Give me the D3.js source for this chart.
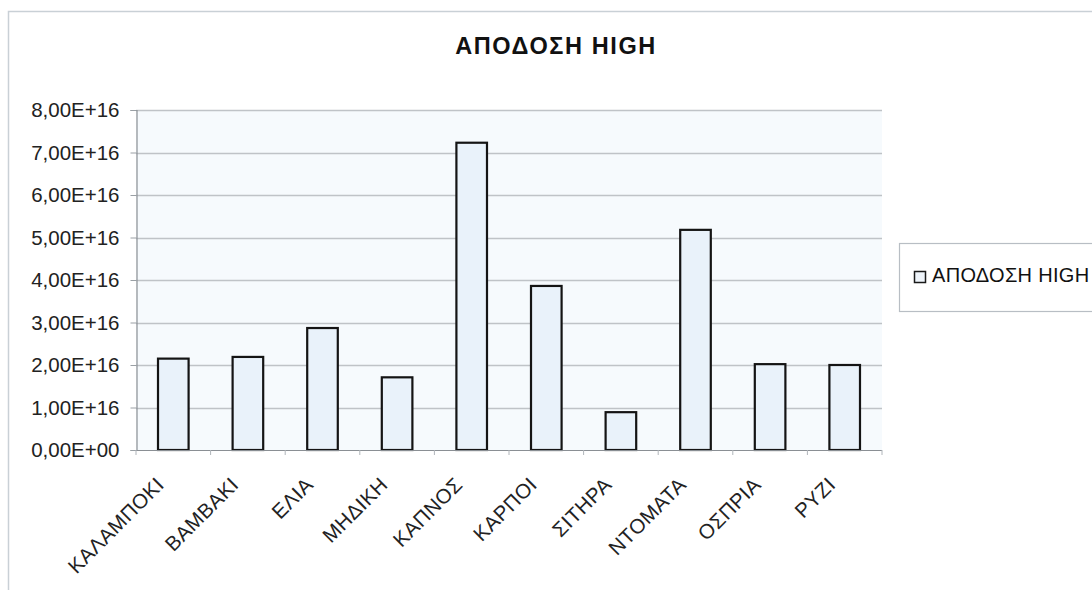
<!DOCTYPE html>
<html>
<head>
<meta charset="utf-8">
<script src="https://cdn.jsdelivr.net/npm/d3@7"></script>
<style>
  html, body { margin: 0; padding: 0; background: #ffffff; }
  svg { display: block; font-family: "Liberation Sans", Arial, sans-serif; }
</style>
</head>
<body>
<svg id="chart" width="1092" height="590"></svg>
<script>
// Crop yield (HIGH scenario) per crop
const categories = ["ΚΑΛΑΜΠΟΚΙ", "ΒΑΜΒΑΚΙ", "ΕΛΙΑ", "ΜΗΔΙΚΗ", "ΚΑΠΝΟΣ", "ΚΑΡΠΟΙ", "ΣΙΤΗΡΑ", "ΝΤΟΜΑΤΑ", "ΟΣΠΡΙΑ", "ΡΥΖΙ"];
const values = [2.15e16, 2.19e16, 2.87e16, 1.71e16, 7.23e16, 3.86e16, 0.89e16, 5.18e16, 2.02e16, 2.00e16];
const yTicks = [0, 1e16, 2e16, 3e16, 4e16, 5e16, 6e16, 7e16, 8e16];
const yTickLabels = ["0,00E+00", "1,00E+16", "2,00E+16", "3,00E+16", "4,00E+16", "5,00E+16", "6,00E+16", "7,00E+16", "8,00E+16"];
const seriesName = "ΑΠΟΔΟΣΗ HIGH";
const chartTitle = "ΑΠΟΔΟΣΗ HIGH";

const svg = d3.select("#chart");
const plot = { left: 136, right: 882, top: 110, bottom: 450 };

// outer chart frame
svg.append("rect")
  .attr("x", 8.5).attr("y", 11.5)
  .attr("width", 1200).attr("height", 700)
  .attr("fill", "#ffffff")
  .attr("stroke", "#c9d0d6").attr("stroke-width", 1.5);

const x = d3.scaleBand()
  .domain(categories)
  .range([plot.left, plot.right])
  .paddingInner(0.59)
  .paddingOuter(0.295);

const y = d3.scaleLinear()
  .domain([0, 8e16])
  .range([plot.bottom, plot.top]);

// plot area background
svg.append("rect")
  .attr("x", plot.left).attr("y", plot.top)
  .attr("width", plot.right - plot.left)
  .attr("height", plot.bottom - plot.top)
  .attr("fill", "#f6fafd");

// horizontal gridlines
svg.append("g")
  .selectAll("line")
  .data(yTicks.filter(d => d > 0))
  .join("line")
  .attr("x1", plot.left).attr("x2", plot.right)
  .attr("y1", d => Math.round(y(d)) + 0.5)
  .attr("y2", d => Math.round(y(d)) + 0.5)
  .attr("stroke", "#bfc3c7").attr("stroke-width", 1.3);

// y axis
const yAxis = d3.axisLeft(y)
  .tickValues(yTicks)
  .tickSize(6)
  .tickPadding(11)
  .tickFormat((d, i) => yTickLabels[i]);

const gy = svg.append("g")
  .attr("transform", `translate(${plot.left + 0.5},0)`)
  .call(yAxis);
gy.select(".domain").attr("stroke", "#8a8f94").attr("stroke-width", 1.2);
gy.selectAll(".tick line").attr("stroke", "#9aa0a5");
gy.selectAll(".tick text")
  .attr("fill", "#222")
  .style("font-size", "20.5px");

// bars
svg.append("g")
  .selectAll("rect")
  .data(values)
  .join("rect")
  .attr("x", (d, i) => x(categories[i]))
  .attr("y", d => y(d))
  .attr("width", x.bandwidth())
  .attr("height", d => y(0) - y(d))
  .attr("fill", "#e9f2fa")
  .attr("stroke", "#141414")
  .attr("stroke-width", 2.2);

// x axis line with ticks between categories
const gx = svg.append("g");
gx.append("line")
  .attr("x1", plot.left).attr("x2", plot.right)
  .attr("y1", plot.bottom + 0.5).attr("y2", plot.bottom + 0.5)
  .attr("stroke", "#8a8f94").attr("stroke-width", 1.2);
const step = x.step();
gx.selectAll("line.tick")
  .data(d3.range(categories.length + 1))
  .join("line")
  .attr("class", "tick")
  .attr("x1", i => plot.left + i * step)
  .attr("x2", i => plot.left + i * step)
  .attr("y1", plot.bottom).attr("y2", plot.bottom + 5)
  .attr("stroke", "#b0b5ba");

// rotated category labels
gx.selectAll("text")
  .data(categories)
  .join("text")
  .attr("transform", d => `translate(${x(d) + x.bandwidth() / 2 - 8},${plot.bottom + 36}) rotate(-45)`)
  .attr("text-anchor", "end")
  .attr("fill", "#222")
  .style("font-size", "20.5px")
  .style("letter-spacing", "0.4px")
  .text(d => d);

// title
svg.append("text")
  .attr("x", 556).attr("y", 54)
  .attr("text-anchor", "middle")
  .attr("fill", "#111")
  .style("font-size", "23.5px")
  .style("font-weight", "bold")
  .style("letter-spacing", "1.6px")
  .text(chartTitle);

// legend
const lg = svg.append("g");
lg.append("rect")
  .attr("x", 899.5).attr("y", 243.5)
  .attr("width", 300).attr("height", 68)
  .attr("fill", "#ffffff")
  .attr("stroke", "#b8bec4").attr("stroke-width", 1.2);
lg.append("rect")
  .attr("x", 914.5).attr("y", 271.5)
  .attr("width", 11).attr("height", 11)
  .attr("fill", "#eef4fa")
  .attr("stroke", "#1a1a1a").attr("stroke-width", 1.5);
lg.append("text")
  .attr("x", 932).attr("y", 282)
  .attr("fill", "#111")
  .style("font-size", "20px")
  .style("letter-spacing", "0.3px")
  .text(seriesName);
</script>
</body>
</html>
